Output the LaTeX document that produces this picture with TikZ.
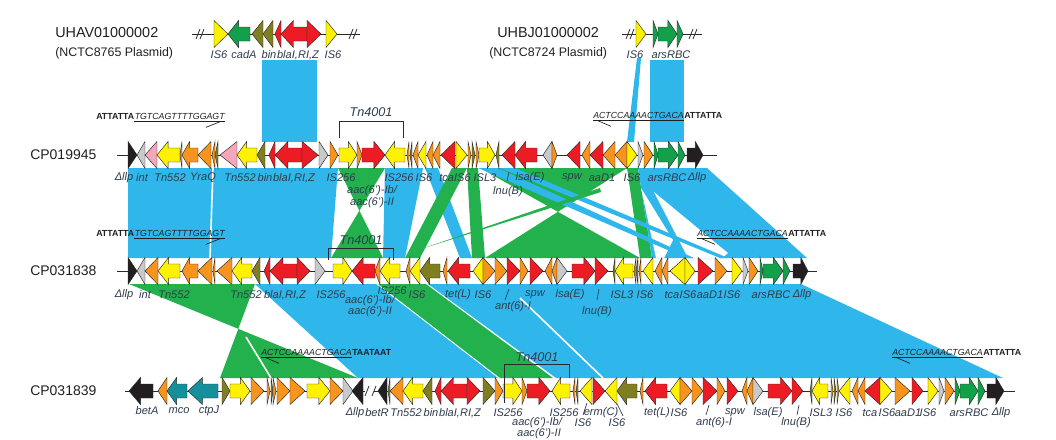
\documentclass[tikz,border=0pt]{standalone}
\usepackage{fontspec}
\setmainfont{Liberation Sans}
\usetikzlibrary{positioning}

\definecolor{yel}{HTML}{FFF200}
\definecolor{org}{HTML}{F7941D}
\definecolor{rd}{HTML}{ED1C24}
\definecolor{olv}{HTML}{7F7F22}
\definecolor{grn}{HTML}{12A04A}
\definecolor{pnk}{HTML}{F4A7B9}
\definecolor{gry}{HTML}{C8C9CB}
\definecolor{blk}{HTML}{231F20}
\definecolor{tel}{HTML}{15909A}
\definecolor{lblue}{HTML}{2FB7EB}
\definecolor{lgreen}{HTML}{22B14C}
\definecolor{txt}{HTML}{2F3B4C}
\definecolor{gline}{HTML}{2A2A2A}

% gene: row y, base x, tip x, shape (t = triangle, a = arrow), colour
\newcommand{\gene}[5]{%
  \if#4a%
    \pgfmathsetmacro\hx{#3-0.48*(#3-#2)}%
    \filldraw[gene,fill=#5] (#2,#1-7) -- (\hx,#1-7) -- (\hx,#1-13.5) -- (#3,#1)
      -- (\hx,#1+13.5) -- (\hx,#1+7) -- (#2,#1+7) -- cycle;%
  \else
    \filldraw[gene,fill=#5] (#2,#1-13.5) -- (#3,#1) -- (#2,#1+13.5) -- cycle;%
  \fi}

\begin{document}
\begin{tikzpicture}[x=0.75pt, y=-0.75pt,
  gene/.style={draw=gline, line width=0.35pt, line join=miter},
  bb/.style={draw=gline, line width=0.6pt},
  brk/.style={draw=gline, line width=0.6pt},
  tick/.style={draw=txt, line width=0.5pt},
  uline/.style={draw=blk, line width=0.5pt},
  lab/.style={font=\fontsize{8.3}{9}\selectfont\itshape, text=txt, inner sep=0pt},
  rowname/.style={font=\fontsize{10.5}{12}\selectfont, text=blk, inner sep=0pt, anchor=west},
  plname/.style={font=\fontsize{10.8}{12}\selectfont, text=blk, inner sep=0pt, anchor=west},
  plsub/.style={font=\fontsize{9.3}{11}\selectfont, text=blk, inner sep=0pt, anchor=west},
  seq/.style={font=\fontsize{6.6}{7}\selectfont\itshape, text=blk, inner sep=0pt, anchor=base west},
  seqb/.style={font=\fontsize{6.6}{7}\selectfont\bfseries, text=blk, inner sep=0pt, anchor=base west},
  tn/.style={font=\fontsize{9.5}{11}\selectfont\itshape, text=txt, inner sep=0pt}]
\useasboundingbox (0,0) rectangle (1056,439);

% plasmid to CP019945
\fill[lblue] (262,60) rectangle (317,142);
\fill[lblue] (650,60) rectangle (684,142);
\fill[lblue] (637,58) -- (641,58) -- (634,142) -- (627,142) -- cycle;

% CP019945 to CP031838
\fill[lblue] (128,168) -- (338,168) -- (331,258) -- (128,258) -- cycle;
\draw[white, line width=1.2pt] (213,168) -- (210,258);
\fill[lgreen] (338,168) -- (385,168) -- (331,258) -- (383,258) -- cycle;
\fill[lblue] (385,168) -- (423,168) -- (405,258) -- (383,258) -- cycle;
\fill[lblue] (425,168) -- (438,168) -- (472,258) -- (460,258) -- cycle;
\fill[lgreen] (452,168) -- (467,168) -- (420,258) -- (405,258) -- cycle;
\fill[lgreen] (467,168) -- (478,168) -- (485,258) -- (472,258) -- cycle;
\fill[lgreen] (480,168) -- (627,168) -- (485,258) -- (640,258) -- cycle;
\fill[lgreen] (627,168) -- (638,168) -- (652,258) -- (640,258) -- cycle;
\fill[lblue] (638,168) -- (707,168) -- (807,258) -- (652,258) -- cycle;
\fill[white] (641,188) -- (673,240) -- (664,258) -- (656,258) -- cycle;
\fill[white] (654,192) -- (728,253) -- (722,258) -- (688,258) -- cycle;
\fill[lblue] (478,168) -- (498,168) -- (694,258) -- (686,258) -- cycle;
\fill[lblue] (500,168) -- (515,168) -- (728,258) -- (720,258) -- cycle;
\fill[lgreen] (418,250) -- (600,188) -- (601,192) -- cycle;

% CP031838 to CP031839
\fill[lgreen] (129,284) -- (255,284) -- (220,378) -- (358,378) -- cycle;
\draw[white, line width=1.2pt] (246,337) -- (271,378);
\fill[lblue] (255,284) -- (376,284) -- (498,378) -- (358,378) -- cycle;
\fill[lgreen] (378,284) -- (426,284) -- (553,378) -- (500,378) -- cycle;
\fill[lblue] (428,284) -- (801,284) -- (1003,378) -- (556,378) -- cycle;
\draw[white, line width=1.2pt] (520,298) -- (603,378);

% backbones
\draw[bb] (192,34) -- (360,34);
\draw[bb] (196,39) -- (200,29) (200,39) -- (204,29);
\draw[bb] (349,39) -- (353,29) (353,39) -- (357,29);
\draw[bb] (622,34) -- (702,34);
\draw[bb] (626,39) -- (630,29) (630,39) -- (634,29);
\draw[bb] (689,39) -- (693,29) (693,39) -- (697,29);
\draw[bb] (117,155) -- (717,155);
\draw[bb] (117,271) -- (817,271);
\draw[bb] (125,391) -- (365,391) (374,391) -- (1015,391);
\draw[bb] (365,396) -- (369,386) (372,396) -- (376,386);

% genes
\foreach \xa/\xb/\sh/\co in {214/228/t/yel, 250/228/a/grn, 263/252/t/olv, 273/263/t/olv,
  281/275/t/rd, 307/281/a/rd, 307/321/t/rd, 326/337/t/yel,
  636/646/t/yel, 653/658/t/grn, 658/677/a/grn, 677/683/t/grn}
  {\gene{34}{\xa}{\xb}{\sh}{\co}}

\foreach \xa/\xb/\sh/\co in {128/137/t/blk, 145/137/t/gry, 157/145/t/pnk, 180/157/a/yel,
  182/180/t/org, 198/182/a/org, 211/198/t/org, 215/212/t/org, 218/215/t/olv, 237/220/t/pnk,
  257/237/a/yel, 265/257/t/olv, 275/269/t/rd, 302/275/a/rd, 302/318/t/rd, 319/328/t/gry,
  330/338/t/org, 339/357/a/yel, 357/362/t/org, 362/385/a/rd, 405/385/a/yel, 409/407/t/org,
  412/410/t/olv, 418/413/t/org, 426/418/t/yel, 433/427/t/org, 440/433/t/org, 455/441/t/rd,
  456/467/t/yel, 468/471/t/org, 472/475/t/olv, 476/479/t/org, 479/495/a/yel, 499/496/t/olv,
  515/502/t/rd, 537/515/a/rd, 552/543/t/gry, 552/557/t/org, 580/567/t/rd, 590/582/t/org,
  603/590/t/rd, 615/603/t/org, 627/615/t/org, 627/637/t/yel, 638/643/t/gry, 644/653/t/org,
  654/658/t/grn, 658/678/a/grn, 678/685/t/grn, 687/703/a/blk}
  {\gene{155}{\xa}{\xb}{\sh}{\co}}

\foreach \xa/\xb/\sh/\co in {128/137/t/blk, 145/137/t/gry, 158/145/t/org, 180/158/a/yel,
  198/182/a/org, 212/198/t/org, 215/213/t/org, 232/217/t/org, 252/232/a/yel, 260/252/t/olv,
  270/264/t/rd, 297/270/a/rd, 297/310/t/rd, 315/325/t/gry, 333/352/a/yel, 375/352/a/rd,
  380/375/t/org, 400/380/a/yel, 410/406/t/org, 420/410/t/yel, 440/420/a/olv, 447/443/t/org,
  470/448/a/rd, 483/473/t/yel, 483/495/t/org, 495/507/t/org, 507/520/t/rd, 520/528/t/org,
  530/543/t/rd, 552/545/t/org, 557/552/t/org, 557/567/t/gry, 572/595/a/rd, 595/608/t/rd,
  615/613/t/olv, 633/615/a/yel, 636/634/t/org, 638/636/t/olv, 641/639/t/org, 653/643/t/yel,
  662/655/t/org, 668/662/t/org, 685/670/t/yel, 685/695/t/yel, 698/713/t/rd, 715/727/t/org,
  732/742/t/yel, 743/748/t/gry, 749/758/t/org, 760/763/t/grn, 763/783/a/grn, 783/790/t/grn,
  793/808/a/blk}
  {\gene{271}{\xa}{\xb}{\sh}{\co}}

\foreach \xa/\xb/\sh/\co in {153/129/a/blk, 167/158/t/org, 187/167/a/tel, 218/188/a/tel,
  222/230/t/olv, 230/250/a/yel, 251/264/t/org, 267/270/t/org, 271/273/t/olv, 273/276/t/org,
  277/290/t/org, 290/305/t/org, 307/330/a/yel, 330/343/t/org, 343/353/t/gry, 363/352/t/blk,
  387/378/t/blk, 390/388/t/olv, 403/390/t/org, 423/403/a/yel, 432/423/t/olv, 441/435/t/rd,
  467/441/a/rd, 467/480/t/rd, 483/495/t/olv, 495/503/t/org, 503/522/a/yel, 522/527/t/org,
  527/550/a/rd, 570/552/a/yel, 575/573/t/org, 578/576/t/olv, 592/580/t/yel, 593/605/t/rd,
  617/605/t/yel, 637/617/a/olv, 643/640/t/org, 667/645/a/rd, 680/670/t/yel, 680/692/t/org,
  692/703/t/org, 703/717/t/rd, 717/725/t/org, 727/738/t/rd, 747/742/t/org, 753/747/t/org,
  753/763/t/gry, 768/792/a/rd, 792/803/t/rd, 812/810/t/olv, 828/812/a/yel, 831/833/t/org,
  834/836/t/olv, 837/839/t/org, 850/839/t/yel, 858/852/t/org, 865/858/t/org, 880/865/t/rd,
  880/892/t/yel, 895/910/t/org, 912/923/t/rd, 928/938/t/yel, 939/944/t/gry, 945/954/t/org,
  955/960/t/grn, 960/978/a/grn, 978/985/t/grn, 987/1004/a/blk}
  {\gene{391}{\xa}{\xb}{\sh}{\co}}

% Tn4001 brackets
\node[tn] (tn1) at (371,112) {Tn4001};
\draw[brk] (339,138) -- (339,121) -- (403,121) -- (403,138);
\node[tn] (tn2) at (361,240) {Tn4001};
\draw[brk] (328,260) -- (328,248) -- (393,248) -- (393,260);
\node[tn] (tn3) at (537,357) {Tn4001};
\draw[brk] (504,403) -- (504,364) -- (569,364) -- (569,378);

% names
\node[plname] (uhav) at (55,33) {UHAV01000002};
\node[plsub] (uhavs) at (55,53) {(NCTC8765 Plasmid)};
\node[plname] (uhbj) at (497,33) {UHBJ01000002};
\node[plsub] (uhbjs) at (489,53) {(NCTC8724 Plasmid)};
\node[rowname] (cpa) at (30,155) {CP019945};
\node[rowname] (cpb) at (30,271) {CP031838};
\node[rowname] (cpc) at (30,391) {CP031839};

% inverted repeats
\node[seqb] (s1b) at (96,119) {ATTATTA};
\node[seq] (s1i) at (s1b.base east) {TGTCAGTTTTGGAGT};
\draw[uline] ([shift={(0,2)}]s1i.south west) -- ([shift={(0,2)}]s1i.south east);
\draw[uline] ([shift={(-4,2)}]s1i.south east) -- ++(-15,6);
\node[seq] (s2i) at (593,118) {ACTCCAAAACTGACA};
\node[seqb] (s2b) at (s2i.base east) {ATTATTA};
\draw[uline] ([shift={(0,2)}]s2i.south west) -- ([shift={(0,2)}]s2i.south east);
\draw[uline] ([shift={(4,2)}]s2i.south west) -- ++(14,6);
\node[seqb] (s3b) at (96,236) {ATTATTA};
\node[seq] (s3i) at (s3b.base east) {TGTCAGTTTTGGAGT};
\draw[uline] ([shift={(0,2)}]s3i.south west) -- ([shift={(0,2)}]s3i.south east);
\draw[uline] ([shift={(-4,2)}]s3i.south east) -- ++(-15,6);
\node[seq] (s4i) at (697,236) {ACTCCAAAACTGACA};
\node[seqb] (s4b) at (s4i.base east) {ATTATTA};
\draw[uline] ([shift={(0,2)}]s4i.south west) -- ([shift={(0,2)}]s4i.south east);
\draw[uline] ([shift={(4,2)}]s4i.south west) -- ++(14,6);
\node[seq] (s5i) at (261,355) {ACTCCAAAACTGACA};
\node[seqb] (s5b) at (s5i.base east) {TAATAAT};
\draw[uline] ([shift={(0,2)}]s5i.south west) -- ([shift={(0,2)}]s5i.south east);
\draw[uline] ([shift={(4,2)}]s5i.south west) -- ++(14,6);
\node[seq] (s6i) at (892,355) {ACTCCAAAACTGACA};
\node[seqb] (s6b) at (s6i.base east) {ATTATTA};
\draw[uline] ([shift={(0,2)}]s6i.south west) -- ([shift={(0,2)}]s6i.south east);
\draw[uline] ([shift={(4,2)}]s6i.south west) -- ++(14,6);

% gene labels
\foreach \x/\t [count=\i] in {219/IS6, 244/cadA, 269/bin, 298/{blaI,RI,Z}, 333/IS6, 635/IS6, 671/arsRBC}
  \node[lab] (pl\i) at (\x,55) {\t};

\foreach \x/\t [count=\i] in {124/Δllp, 142/int, 170/Tn552, 203/YraQ, 240/Tn552, 265/bin,
  294/{blaI,RI,Z}, 341/IS256, 399/IS256, 424/IS6, 455/tcaIS6, 485/ISL3, 530/lsa(E), 572/spw,
  602/aaD1, 632/IS6, 667/arsRBC, 697/Δllp}
  \node[lab] (ra\i) at (\x,178) {\t};
\node[lab] (ra19) at (372,191) {aac(6')-Ib/};
\node[lab] (ra20) at (372,203) {aac(6')-II};
\node[lab] (ra21) at (508,192) {lnu(B)};
\draw[tick] (509,172) -- (507,181);

\foreach \x/\t [count=\i] in {124/Δllp, 145/int, 174/Tn552, 246/Tn552, 285/{blaI,RI,Z}, 331/IS256,
  417/IS6, 458/tet(L), 483/IS6, 535/spw, 570/lsa(E), 622/ISL3, 645/IS6, 672/tca, 688/IS6,
  710/aaD1, 732/IS6, 771/arsRBC, 802/Δllp}
  \node[lab] (rb\i) at (\x,295) {\t};
\node[lab] (rb20) at (392,291) {IS256};
\node[lab] (rb21) at (370,301) {aac(6')-Ib/};
\node[lab] (rb22) at (370,312) {aac(6')-II};
\node[lab] (rb23) at (513,307) {ant(6)-I};
\node[lab] (rb24) at (597,312) {lnu(B)};
\draw[tick] (509,289) -- (505,300);
\draw[tick] (599,289) -- (597,300);

\foreach \x/\t [count=\i] in {147/betA, 179/mco, 209/ctpJ}
  \node[lab] (rc\i) at (\x,411) {\t};
\foreach \x/\t [count=\i from 4] in {355/Δllp, 377/betR, 406/Tn552, 431/bin, 460/{blaI,RI,Z},
  508/IS256, 564/IS256, 601/erm(C), 657/tet(L), 679/IS6, 735/spw, 768/lsa(E), 821/ISL3,
  844/IS6, 870/tca, 887/IS6, 908/aaD1, 928/IS6, 969/arsRBC, 1001/Δllp}
  \node[lab] (rc\i) at (\x,413) {\t};
\foreach \x/\t [count=\i from 24] in {583/IS6, 617/IS6, 714/ant(6)-I, 796/lnu(B)}
  \node[lab] (rc\i) at (\x,423) {\t};
\node[lab] (rc28) at (537,423) {aac(6')-Ib/};
\node[lab] (rc29) at (539,434) {aac(6')-II};
\draw[tick] (587,403) -- (583,415);
\draw[tick] (617,404) -- (623,416);
\draw[tick] (709,405) -- (706,415);
\draw[tick] (799,405) -- (797,415);
\end{tikzpicture}
\end{document}
